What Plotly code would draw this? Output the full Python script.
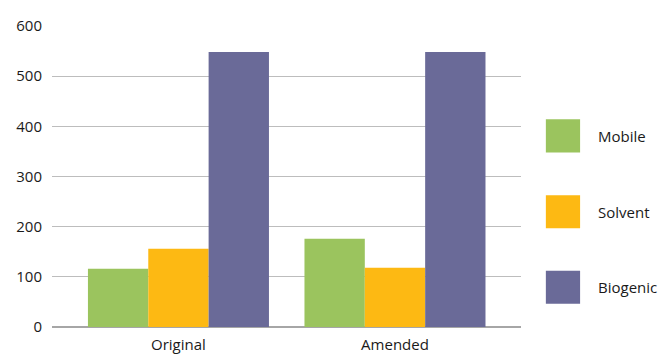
import plotly.graph_objects as go

categories = ["Original", "Amended"]
series_names = ["Mobile", "Solvent", "Biogenic"]
mobile = [116, 176]
solvent = [156, 118]
biogenic = [548, 548]
colors = ["#9bc45e", "#fdb913", "#6a6a98"]
y_ticks = [0, 100, 200, 300, 400, 500, 600]

values = [mobile, solvent, biogenic]
FONT = "Open Sans"
TXT = "#1a1a1a"

fig = go.Figure()
for name, vals, col in zip(series_names, values, colors):
    fig.add_trace(go.Bar(x=[0, 1], y=vals, name=name, marker_color=col,
                         marker_line_width=0, showlegend=False))

# custom legend with large squares
legend_y = [0.635, 0.383, 0.132]
for name, col, ly in zip(series_names, colors, legend_y):
    fig.add_shape(type="rect", xref="paper", yref="paper",
                  x0=1.053, x1=1.126, y0=ly - 0.055, y1=ly + 0.055,
                  fillcolor=col, line_width=0)
    fig.add_annotation(text=name, xref="paper", yref="paper", x=1.160, y=ly,
                       xanchor="left", yanchor="middle", showarrow=False,
                       font=dict(family=FONT, size=15, color=TXT))

fig.update_layout(
    width=660, height=354,
    margin=dict(l=52, r=139, t=26, b=27),
    paper_bgcolor="white", plot_bgcolor="white",
    barmode="group", bargap=0.164, bargroupgap=0,
    font=dict(family=FONT, size=15, color=TXT),
    xaxis=dict(range=[-0.584, 1.582], tickmode="array", tickvals=[0, 1],
               ticktext=categories, showgrid=False, zeroline=False,
               showline=False, ticks="", ticklabelstandoff=7,
               automargin=False, fixedrange=True),
    yaxis=dict(range=[0, 600], tickvals=y_ticks, showgrid=True,
               gridcolor="#bdbdbd", gridwidth=1, zeroline=True,
               zerolinecolor="#a6a6a6", zerolinewidth=2, showline=False,
               ticks="", ticklabelstandoff=9, automargin=False,
               fixedrange=True),
)

fig.write_html("out.html")
